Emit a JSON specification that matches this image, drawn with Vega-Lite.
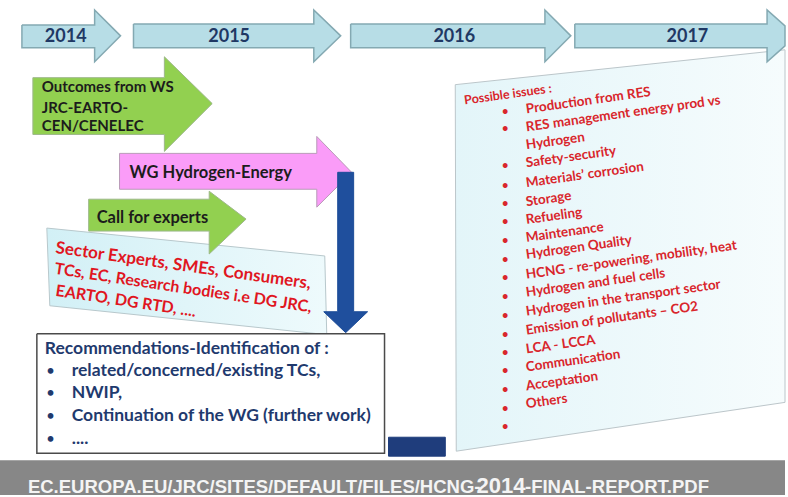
{
  "$schema": "https://vega.github.io/schema/vega-lite/v6.json",
  "width": 788,
  "height": 497,
  "autosize": {"type": "fit", "contains": "padding"},
  "padding": 0,
  "background": "white",
  "config": {"view": {"stroke": null}},
  "datasets": {
    "shapes": [
      {"shape": "issues", "kind": "box", "i": 0, "x": 457, "y": 85},
      {"shape": "issues", "kind": "box", "i": 1, "x": 788, "y": 50},
      {"shape": "issues", "kind": "box", "i": 2, "x": 788, "y": 404},
      {"shape": "issues", "kind": "box", "i": 3, "x": 458, "y": 453},
      {"shape": "issues", "kind": "box", "i": 4, "x": 457, "y": 85},

      {"shape": "y2014", "kind": "year", "i": 0, "x": 22, "y": 25},
      {"shape": "y2014", "kind": "year", "i": 1, "x": 95, "y": 25},
      {"shape": "y2014", "kind": "year", "i": 2, "x": 95, "y": 10},
      {"shape": "y2014", "kind": "year", "i": 3, "x": 121, "y": 36},
      {"shape": "y2014", "kind": "year", "i": 4, "x": 95, "y": 62},
      {"shape": "y2014", "kind": "year", "i": 5, "x": 95, "y": 48},
      {"shape": "y2014", "kind": "year", "i": 6, "x": 22, "y": 48},
      {"shape": "y2014", "kind": "year", "i": 7, "x": 22, "y": 25},

      {"shape": "y2015", "kind": "year", "i": 0, "x": 134, "y": 24},
      {"shape": "y2015", "kind": "year", "i": 1, "x": 315, "y": 24},
      {"shape": "y2015", "kind": "year", "i": 2, "x": 315, "y": 10},
      {"shape": "y2015", "kind": "year", "i": 3, "x": 342, "y": 36},
      {"shape": "y2015", "kind": "year", "i": 4, "x": 315, "y": 62},
      {"shape": "y2015", "kind": "year", "i": 5, "x": 315, "y": 48},
      {"shape": "y2015", "kind": "year", "i": 6, "x": 134, "y": 48},
      {"shape": "y2015", "kind": "year", "i": 7, "x": 134, "y": 24},

      {"shape": "y2016", "kind": "year", "i": 0, "x": 352, "y": 24},
      {"shape": "y2016", "kind": "year", "i": 1, "x": 547, "y": 24},
      {"shape": "y2016", "kind": "year", "i": 2, "x": 547, "y": 10},
      {"shape": "y2016", "kind": "year", "i": 3, "x": 573, "y": 36},
      {"shape": "y2016", "kind": "year", "i": 4, "x": 547, "y": 62},
      {"shape": "y2016", "kind": "year", "i": 5, "x": 547, "y": 48},
      {"shape": "y2016", "kind": "year", "i": 6, "x": 352, "y": 48},
      {"shape": "y2016", "kind": "year", "i": 7, "x": 352, "y": 24},

      {"shape": "y2017", "kind": "year", "i": 0, "x": 577, "y": 24},
      {"shape": "y2017", "kind": "year", "i": 1, "x": 770, "y": 24},
      {"shape": "y2017", "kind": "year", "i": 2, "x": 770, "y": 10},
      {"shape": "y2017", "kind": "year", "i": 3, "x": 788, "y": 26},
      {"shape": "y2017", "kind": "year", "i": 4, "x": 788, "y": 46},
      {"shape": "y2017", "kind": "year", "i": 5, "x": 770, "y": 62},
      {"shape": "y2017", "kind": "year", "i": 6, "x": 770, "y": 48},
      {"shape": "y2017", "kind": "year", "i": 7, "x": 577, "y": 48},
      {"shape": "y2017", "kind": "year", "i": 8, "x": 577, "y": 24},

      {"shape": "footer", "kind": "footer", "i": 0, "x": 0, "y": 462},
      {"shape": "footer", "kind": "footer", "i": 1, "x": 788, "y": 462},
      {"shape": "footer", "kind": "footer", "i": 2, "x": 788, "y": 497},
      {"shape": "footer", "kind": "footer", "i": 3, "x": 0, "y": 497},
      {"shape": "footer", "kind": "footer", "i": 4, "x": 0, "y": 462},

      {"shape": "sector", "kind": "sector", "i": 0, "x": 47, "y": 229},
      {"shape": "sector", "kind": "sector", "i": 1, "x": 326, "y": 257},
      {"shape": "sector", "kind": "sector", "i": 2, "x": 328, "y": 336},
      {"shape": "sector", "kind": "sector", "i": 3, "x": 50, "y": 307},
      {"shape": "sector", "kind": "sector", "i": 4, "x": 47, "y": 229},

      {"shape": "green1", "kind": "green", "i": 0, "x": 33, "y": 78},
      {"shape": "green1", "kind": "green", "i": 1, "x": 165, "y": 78},
      {"shape": "green1", "kind": "green", "i": 2, "x": 165, "y": 57},
      {"shape": "green1", "kind": "green", "i": 3, "x": 213, "y": 104},
      {"shape": "green1", "kind": "green", "i": 4, "x": 165, "y": 152},
      {"shape": "green1", "kind": "green", "i": 5, "x": 165, "y": 135},
      {"shape": "green1", "kind": "green", "i": 6, "x": 33, "y": 135},
      {"shape": "green1", "kind": "green", "i": 7, "x": 33, "y": 78},

      {"shape": "pink", "kind": "pink", "i": 0, "x": 120, "y": 154},
      {"shape": "pink", "kind": "pink", "i": 1, "x": 318, "y": 154},
      {"shape": "pink", "kind": "pink", "i": 2, "x": 318, "y": 137},
      {"shape": "pink", "kind": "pink", "i": 3, "x": 353, "y": 173},
      {"shape": "pink", "kind": "pink", "i": 4, "x": 318, "y": 208},
      {"shape": "pink", "kind": "pink", "i": 5, "x": 318, "y": 190},
      {"shape": "pink", "kind": "pink", "i": 6, "x": 120, "y": 190},
      {"shape": "pink", "kind": "pink", "i": 7, "x": 120, "y": 154},

      {"shape": "green2", "kind": "green", "i": 0, "x": 89, "y": 200},
      {"shape": "green2", "kind": "green", "i": 1, "x": 210, "y": 200},
      {"shape": "green2", "kind": "green", "i": 2, "x": 210, "y": 192},
      {"shape": "green2", "kind": "green", "i": 3, "x": 247, "y": 220},
      {"shape": "green2", "kind": "green", "i": 4, "x": 210, "y": 255},
      {"shape": "green2", "kind": "green", "i": 5, "x": 210, "y": 232},
      {"shape": "green2", "kind": "green", "i": 6, "x": 89, "y": 232},
      {"shape": "green2", "kind": "green", "i": 7, "x": 89, "y": 200},

      {"shape": "blue", "kind": "blue", "i": 0, "x": 339, "y": 173},
      {"shape": "blue", "kind": "blue", "i": 1, "x": 355, "y": 173},
      {"shape": "blue", "kind": "blue", "i": 2, "x": 355, "y": 313},
      {"shape": "blue", "kind": "blue", "i": 3, "x": 369, "y": 313},
      {"shape": "blue", "kind": "blue", "i": 4, "x": 347, "y": 334},
      {"shape": "blue", "kind": "blue", "i": 5, "x": 325, "y": 313},
      {"shape": "blue", "kind": "blue", "i": 6, "x": 339, "y": 313},
      {"shape": "blue", "kind": "blue", "i": 7, "x": 339, "y": 173},

      {"shape": "rec", "kind": "rec", "i": 0, "x": 37, "y": 335},
      {"shape": "rec", "kind": "rec", "i": 1, "x": 386, "y": 335},
      {"shape": "rec", "kind": "rec", "i": 2, "x": 386, "y": 455},
      {"shape": "rec", "kind": "rec", "i": 3, "x": 37, "y": 455},
      {"shape": "rec", "kind": "rec", "i": 4, "x": 37, "y": 335},

      {"shape": "navy", "kind": "navy", "i": 0, "x": 390, "y": 439},
      {"shape": "navy", "kind": "navy", "i": 1, "x": 447, "y": 439},
      {"shape": "navy", "kind": "navy", "i": 2, "x": 447, "y": 458},
      {"shape": "navy", "kind": "navy", "i": 3, "x": 390, "y": 458},
      {"shape": "navy", "kind": "navy", "i": 4, "x": 390, "y": 439}
    ],
    "labels": [
      {"g": "year", "t": "2014", "x": 66, "y": 37},
      {"g": "year", "t": "2015", "x": 230, "y": 37},
      {"g": "year", "t": "2016", "x": 456, "y": 37},
      {"g": "year", "t": "2017", "x": 690, "y": 37},

      {"g": "arrow", "t": "Outcomes from WS", "x": 42, "y": 87},
      {"g": "arrow", "t": "JRC-EARTO-", "x": 42, "y": 108},
      {"g": "arrow", "t": "CEN/CENELEC", "x": 42, "y": 127},
      {"g": "arrowbig", "t": "WG Hydrogen-Energy", "x": 130, "y": 174},
      {"g": "arrowbig", "t": "Call for experts", "x": 97, "y": 219},

      {"g": "sector1", "t": "Sector Experts, SMEs, Consumers,", "x": 56, "y": 249},
      {"g": "sector", "t": "TCs, EC, Research bodies i.e DG JRC,", "x": 55, "y": 270},
      {"g": "sector", "t": "EARTO, DG RTD, ....", "x": 56, "y": 292},

      {"g": "rectitle", "t": "Recommendations-Identification of :", "x": 45, "y": 350},
      {"g": "recitem", "t": "related/concerned/existing TCs,", "x": 72, "y": 373},
      {"g": "recitem", "t": "NWIP,", "x": 72, "y": 395},
      {"g": "recitem", "t": "Continuation of the WG (further work)", "x": 72, "y": 418},
      {"g": "recitem", "t": "....", "x": 72, "y": 441},
      {"g": "recbullet", "t": "•", "x": 47, "y": 373},
      {"g": "recbullet", "t": "•", "x": 47, "y": 395},
      {"g": "recbullet", "t": "•", "x": 47, "y": 418},
      {"g": "recbullet", "t": "•", "x": 47, "y": 441},

      {"g": "issuehead", "t": "Possible issues :", "x": 466, "y": 101},
      {"g": "issue", "t": "Production from RES", "x": 528, "y": 110},
      {"g": "issue", "t": "RES management energy prod vs", "x": 528, "y": 128},
      {"g": "issue", "t": "Hydrogen", "x": 528, "y": 146},
      {"g": "issue", "t": "Safety-security", "x": 528, "y": 164},
      {"g": "issue", "t": "Materials’ corrosion", "x": 528, "y": 184},
      {"g": "issue", "t": "Storage", "x": 528, "y": 203},
      {"g": "issue", "t": "Refueling", "x": 528, "y": 221},
      {"g": "issue", "t": "Maintenance", "x": 528, "y": 239},
      {"g": "issue", "t": "Hydrogen Quality", "x": 528, "y": 256},
      {"g": "issue", "t": "HCNG - re-powering, mobility, heat", "x": 528, "y": 276},
      {"g": "issue", "t": "Hydrogen and fuel cells", "x": 528, "y": 294},
      {"g": "issue", "t": "Hydrogen in the transport sector", "x": 528, "y": 313},
      {"g": "issue", "t": "Emission of pollutants – CO2", "x": 528, "y": 332},
      {"g": "issue", "t": "LCA -  LCCA", "x": 528, "y": 351},
      {"g": "issue", "t": "Communication", "x": 528, "y": 369},
      {"g": "issue", "t": "Acceptation", "x": 528, "y": 388},
      {"g": "issue", "t": "Others", "x": 528, "y": 406},
      {"g": "ibullet", "t": "•", "x": 507, "y": 112},
      {"g": "ibullet", "t": "•", "x": 507, "y": 130},
      {"g": "ibullet", "t": "•", "x": 507, "y": 167},
      {"g": "ibullet", "t": "•", "x": 507, "y": 187},
      {"g": "ibullet", "t": "•", "x": 507, "y": 205},
      {"g": "ibullet", "t": "•", "x": 507, "y": 223},
      {"g": "ibullet", "t": "•", "x": 507, "y": 242},
      {"g": "ibullet", "t": "•", "x": 507, "y": 261},
      {"g": "ibullet", "t": "•", "x": 507, "y": 279},
      {"g": "ibullet", "t": "•", "x": 507, "y": 298},
      {"g": "ibullet", "t": "•", "x": 507, "y": 317},
      {"g": "ibullet", "t": "•", "x": 507, "y": 336},
      {"g": "ibullet", "t": "•", "x": 507, "y": 354},
      {"g": "ibullet", "t": "•", "x": 507, "y": 373},
      {"g": "ibullet", "t": "•", "x": 507, "y": 392},
      {"g": "ibullet", "t": "•", "x": 507, "y": 411},
      {"g": "ibullet", "t": "•", "x": 507, "y": 429},

      {"g": "footer", "t": "EC.EUROPA.EU/JRC/SITES/DEFAULT/FILES/HCNG-", "x": 28, "y": 495},
      {"g": "footerbig", "t": "2014", "x": 503, "y": 495},
      {"g": "footer", "t": "-FINAL-REPORT.PDF", "x": 527, "y": 495}
    ]
  },
  "encoding": {
    "x": {"field": "x", "type": "quantitative", "scale": {"domain": [0, 788], "nice": false, "zero": false}, "axis": null},
    "y": {"field": "y", "type": "quantitative", "scale": {"domain": [0, 497], "nice": false, "zero": false, "reverse": true}, "axis": null}
  },
  "layer": [
    {
      "data": {"name": "shapes"},
      "transform": [{"filter": "datum.shape === 'issues'"}],
      "mark": {"type": "line", "stroke": "#bcc6ca", "strokeWidth": 1,
        "fill": {"gradient": "linear", "x1": 0, "y1": 0, "x2": 1, "y2": 0, "stops": [{"offset": 0, "color": "#e3f5f9"}, {"offset": 1, "color": "#f6fcfd"}]}},
      "encoding": {"order": {"field": "i", "type": "quantitative"}}
    },
    {
      "data": {"name": "shapes"},
      "transform": [{"filter": "datum.kind === 'year'"}],
      "mark": {"type": "line", "stroke": "#84a9b2", "strokeWidth": 1.5, "fill": "#b7dde6"},
      "encoding": {"order": {"field": "i", "type": "quantitative"}, "detail": {"field": "shape", "type": "nominal"}}
    },
    {
      "data": {"name": "shapes"},
      "transform": [{"filter": "datum.shape === 'footer'"}],
      "mark": {"type": "line", "stroke": null, "strokeWidth": 0, "fill": "#878787"},
      "encoding": {"order": {"field": "i", "type": "quantitative"}}
    },
    {
      "data": {"name": "shapes"},
      "transform": [{"filter": "datum.shape === 'sector'"}],
      "mark": {"type": "line", "stroke": "#b8c8cc", "strokeWidth": 1,
        "fill": {"gradient": "linear", "x1": 0, "y1": 0, "x2": 1, "y2": 0, "stops": [{"offset": 0, "color": "#d2f0f6"}, {"offset": 1, "color": "#eefafc"}]}},
      "encoding": {"order": {"field": "i", "type": "quantitative"}}
    },
    {
      "data": {"name": "shapes"},
      "transform": [{"filter": "datum.shape === 'green1'"}],
      "mark": {"type": "line", "stroke": "#9db88a", "strokeWidth": 1, "fill": "#92d050"},
      "encoding": {"order": {"field": "i", "type": "quantitative"}}
    },
    {
      "data": {"name": "shapes"},
      "transform": [{"filter": "datum.shape === 'pink'"}],
      "mark": {"type": "line", "stroke": "#b99ab8", "strokeWidth": 1, "fill": "#fa9cf8"},
      "encoding": {"order": {"field": "i", "type": "quantitative"}}
    },
    {
      "data": {"name": "shapes"},
      "transform": [{"filter": "datum.shape === 'green2'"}],
      "mark": {"type": "line", "stroke": "#9db88a", "strokeWidth": 1, "fill": "#92d050"},
      "encoding": {"order": {"field": "i", "type": "quantitative"}}
    },
    {
      "data": {"name": "shapes"},
      "transform": [{"filter": "datum.shape === 'blue'"}],
      "mark": {"type": "line", "stroke": "#1c4c98", "strokeWidth": 1, "fill": "#1f4f9d"},
      "encoding": {"order": {"field": "i", "type": "quantitative"}}
    },
    {
      "data": {"name": "shapes"},
      "transform": [{"filter": "datum.shape === 'rec'"}],
      "mark": {"type": "line", "stroke": "#4a4a4a", "strokeWidth": 1.5, "fill": "#ffffff"},
      "encoding": {"order": {"field": "i", "type": "quantitative"}}
    },
    {
      "data": {"name": "shapes"},
      "transform": [{"filter": "datum.shape === 'navy'"}],
      "mark": {"type": "line", "stroke": "#1f3d7c", "strokeWidth": 1, "fill": "#1f3d7c"},
      "encoding": {"order": {"field": "i", "type": "quantitative"}}
    },
    {
      "data": {"name": "labels"},
      "transform": [{"filter": "datum.g === 'year'"}],
      "mark": {"type": "text", "align": "center", "baseline": "middle", "font": "Lato", "fontWeight": "bold", "fontSize": 18, "color": "#1f3864"},
      "encoding": {"text": {"field": "t", "type": "nominal"}}
    },
    {
      "data": {"name": "labels"},
      "transform": [{"filter": "datum.g === 'arrow'"}],
      "mark": {"type": "text", "align": "left", "baseline": "middle", "font": "Lato", "fontWeight": "bold", "fontSize": 15, "color": "#1c1c1c"},
      "encoding": {"text": {"field": "t", "type": "nominal"}}
    },
    {
      "data": {"name": "labels"},
      "transform": [{"filter": "datum.g === 'arrowbig'"}],
      "mark": {"type": "text", "align": "left", "baseline": "middle", "font": "Lato", "fontWeight": "bold", "fontSize": 16.5, "color": "#1c1c1c"},
      "encoding": {"text": {"field": "t", "type": "nominal"}}
    },
    {
      "data": {"name": "labels"},
      "transform": [{"filter": "datum.g === 'sector1'"}],
      "mark": {"type": "text", "align": "left", "baseline": "middle", "font": "Lato", "fontWeight": "bold", "fontSize": 17, "angle": 8, "color": "#e0161f"},
      "encoding": {"text": {"field": "t", "type": "nominal"}}
    },
    {
      "data": {"name": "labels"},
      "transform": [{"filter": "datum.g === 'sector'"}],
      "mark": {"type": "text", "align": "left", "baseline": "middle", "font": "Lato", "fontWeight": "bold", "fontSize": 16, "angle": 8.5, "color": "#e0161f"},
      "encoding": {"text": {"field": "t", "type": "nominal"}}
    },
    {
      "data": {"name": "labels"},
      "transform": [{"filter": "datum.g === 'rectitle' || datum.g === 'recitem'"}],
      "mark": {"type": "text", "align": "left", "baseline": "middle", "font": "Lato", "fontWeight": "bold", "fontSize": 17.5, "color": "#1f3a6e"},
      "encoding": {"text": {"field": "t", "type": "nominal"}}
    },
    {
      "data": {"name": "labels"},
      "transform": [{"filter": "datum.g === 'recbullet'"}],
      "mark": {"type": "text", "align": "left", "baseline": "middle", "font": "Lato", "fontWeight": "bold", "fontSize": 13, "color": "#1f3a6e"},
      "encoding": {"text": {"field": "t", "type": "nominal"}}
    },
    {
      "data": {"name": "labels"},
      "transform": [{"filter": "datum.g === 'issuehead'"}],
      "mark": {"type": "text", "align": "left", "baseline": "middle", "font": "Lato", "fontWeight": "bold", "fontSize": 12.5, "angle": -8, "color": "#d9262c"},
      "encoding": {"text": {"field": "t", "type": "nominal"}}
    },
    {
      "data": {"name": "labels"},
      "transform": [{"filter": "datum.g === 'issue'"}],
      "mark": {"type": "text", "align": "left", "baseline": "middle", "font": "Lato", "fontWeight": "bold", "fontSize": 13.5, "angle": -8, "color": "#d9262c"},
      "encoding": {"text": {"field": "t", "type": "nominal"}}
    },
    {
      "data": {"name": "labels"},
      "transform": [{"filter": "datum.g === 'ibullet'"}],
      "mark": {"type": "text", "align": "center", "baseline": "middle", "font": "Lato", "fontWeight": "bold", "fontSize": 11, "color": "#d9262c"},
      "encoding": {"text": {"field": "t", "type": "nominal"}}
    },
    {
      "data": {"name": "labels"},
      "transform": [{"filter": "datum.g === 'footer'"}],
      "mark": {"type": "text", "align": "left", "baseline": "alphabetic", "font": "Liberation Sans, Arial, sans-serif", "fontWeight": "bold", "fontSize": 18.5, "color": "#f4f4f4"},
      "encoding": {"text": {"field": "t", "type": "nominal"}}
    },
    {
      "data": {"name": "labels"},
      "transform": [{"filter": "datum.g === 'footerbig'"}],
      "mark": {"type": "text", "align": "center", "baseline": "alphabetic", "font": "Liberation Sans, Arial, sans-serif", "fontWeight": "bold", "fontSize": 22, "color": "#f4f4f4"},
      "encoding": {"text": {"field": "t", "type": "nominal"}}
    }
  ]
}
